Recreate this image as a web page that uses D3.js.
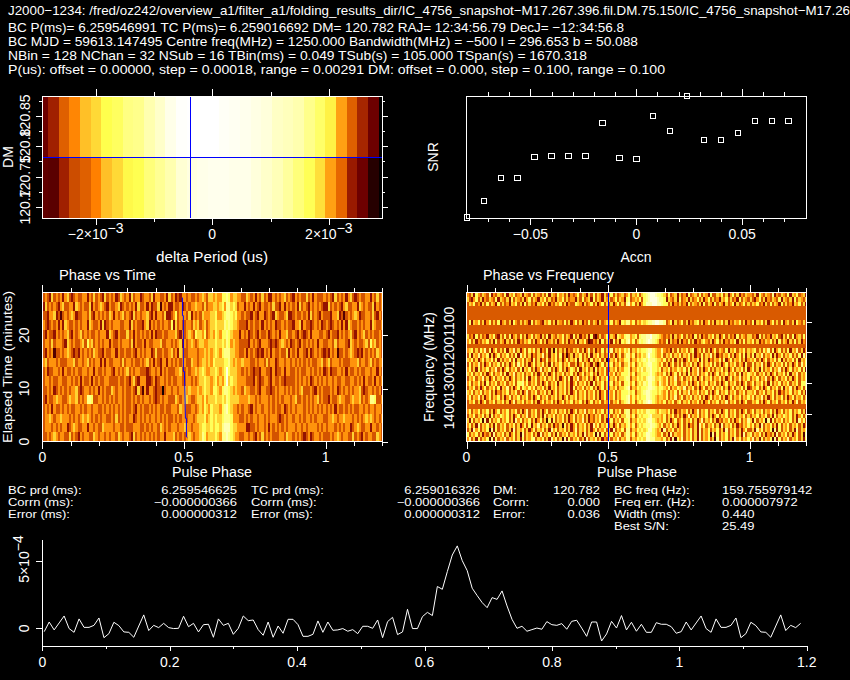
<!DOCTYPE html>
<html>
<head>
<meta charset="utf-8">
<style>
html,body{margin:0;padding:0;background:#000;overflow:hidden}
svg{display:block}
text{fill:#fff;font-family:"Liberation Sans",sans-serif;font-weight:400}
.tk line{stroke:#fff;stroke-width:1;shape-rendering:crispEdges}
</style>
<script src="https://cdn.jsdelivr.net/npm/d3@7/dist/d3.min.js"></script>
</head>
<body>
<script>
// ---------- header and table text ----------
const headerLines = [
 "J2000−1234: /fred/oz242/overview_a1/filter_a1/folding_results_dir/IC_4756_snapshot−M17.267.396.fil.DM.75.150/IC_4756_snapshot−M17.26",
 "BC P(ms)= 6.259546991 TC P(ms)= 6.259016692 DM= 120.782 RAJ= 12:34:56.79 DecJ= −12:34:56.8",
 "BC MJD = 59613.147495 Centre freq(MHz) = 1250.000 Bandwidth(MHz) = −500 l = 296.653 b = 50.088",
 "NBin = 128 NChan = 32 NSub = 16 TBin(ms) = 0.049 TSub(s) = 105.000 TSpan(s) = 1670.318",
 "P(us): offset = 0.00000, step = 0.00018, range = 0.00291 DM: offset = 0.000, step = 0.100, range = 0.100"
];
const tableLabelsA = ["BC prd (ms):","Corrn (ms):","Error (ms):"];
const tableValuesA = ["6.259546625","−0.000000366","0.000000312"];
const tableLabelsB = ["TC prd (ms):","Corrn (ms):","Error (ms):"];
const tableValuesB = ["6.259016326","−0.000000366","0.000000312"];
const tableLabelsC = ["DM:","Corrn:","Error:"];
const tableValuesC = ["120.782","0.000","0.036"];
const tableLabelsD = ["BC freq (Hz):","Freq err. (Hz):","Width (ms):","Best S/N:"];
const tableValuesD = ["159.755979142","0.000007972","0.440","25.49"];

// ---------- delta period vs DM ----------
const periodStart = -0.00291, periodStep = 0.000183;
const dmRows = [120.832, 120.732];
const dmUpper = [.17,.25,.35,.41,.5,.54,.6,.64,.72,.74,.82,.88,.95,.99,1,1,1,.98,.97,.96,.94,.92,.87,.85,.82,.74,.66,.58,.45,.35,.26,.17];
const dmLower = [.15,.14,.25,.32,.35,.4,.5,.54,.59,.61,.7,.76,.82,.9,.93,.95,.96,.96,.95,.95,.92,.88,.84,.78,.7,.62,.55,.45,.36,.24,.17,.06];
const bestPeriod = -0.000377, bestDM = 120.782;

// ---------- SNR vs acceleration (relative SNR, no scale printed) ----------
const accn = [-.08,-.072,-.064,-.056,-.048,-.04,-.032,-.024,-.016,-.008,0,.008,.016,.024,.032,.04,.048,.056,.064,.072];
const snr = [0,.5,1.19,1.19,1.82,1.85,1.85,1.85,2.84,1.79,1.76,3.05,2.6,3.65,2.33,2.33,2.54,2.9,2.9,2.9];

// ---------- phase vs time: 16 subints (latest first), 128 phase bins, digit = intensity level ----------
const phaseTime = [
"3432534342453234 3344243534325343 4235434253442344 3524433425342324 4343343454355454 4667645544335434 2435342243434534 3243433534243334",
"2534343245334425 4343352434543243 3452343434253342 4233514342243342 3434454435344554 5647756534424342 4324334353324243 4342534324343432",
"3324452313434542 3344353243434354 2434534325343445 3242443522346344 4352434354445564 4567765644343324 3244234325433452 2343343425343243",
"4323434242543343 4344254334252343 4443344253433245 2434343443625343 3443545345345565 5576765543332434 3342434342334343 3244524332343423",
"3243324343453243 4534343343444254 3243335342434343 4242334334445324 3454365546345465 4667654442434234 3243342343424453 3432432342444334",
"3443534443254343 3453645343434424 3343444352433424 3344453344343452 4345434554455565 5657645443333243 4324443232345434 2343243434342443",
"3243413343454323 2434343543324334 4243343343243434 4235334334534254 3344443445454565 4677755443342434 3232434243343352 4342443242343432",
"4534443433344453 4434534344242433 4443534434334345 3424324424343434 4335443455454655 5566754544544433 4344353442344344 3434343434334453",
"3423344342433434 3344344243343443 2434345343443332 3443424343334453 3434454565445565 4569655544343432 3324433242334244 3343433443434342",
"3443433443344343 4243342434334433 3343343245324442 2342344343433443 3443434556554564 5469565544443332 4323443243343233 3343434342343434",
"3343423434343445 3234434342434335 4344343343253142 4432330344344344 5454445456554665 4677654544354433 4324433234344343 4343453334324343",
"3243345443345445 3434776334434343 4344343343434344 3432343443335434 5543345546455565 5657655554444544 3434443434343444 3453343434345343",
"3434243343434334 4343443443343434 3434343343243433 4343433433444354 4334434546546555 4678654434344324 3443443434334234 3434443434343434",
"3445434454443434 3454543434344334 3534343442343434 3443434343343434 4344345556456565 5677764443343434 4344343444323434 4344343443434443",
"3444343434423454 3344244343354444 3443343334443343 4344354343444344 5443444566556566 5788865544442233 4344342434343434 4434434344443434",
"3343454344335343 2434433543443434 4354344325343434 3434344244453434 3454344576455565 4778765443344343 2435343433344354 4343432342344343"
];
const phasePath = [[.4947,27.1],[.4947,23.7],[.498,23.7],[.498,13.2],[.5017,13.2],[.5053,4.4],[.5088,4.4],[.5088,.9],[.5123,.75]];

// ---------- phase vs frequency: 32 channels, low frequency label at the top; null = zapped channel ----------
const zappedLevel = 0.31;
const phaseFreq = [
"4352643543724354 3625463452543635 4353625436453524 3463542536354253 4635345346354635 6789987765363452 5342634536354263 3546352463524354",
"5324635243543625 4352635435246354 2546353425463534 4253634526354254 5346354267345463 6789998776254352 6345253463524635 3425463534263543",
"3546342536354263 5342546352635342 5463524354635243 3654253463524635 3524635378463524 6888998876635243 5342635435263542 6354253462534635",
null,null,null,
"3625463524635362 4535264353542635 4325463525436352 4635243635425345 4635426577463546 5677899887346253 4635243563524635 2546352435463524",
null,null,
"5342635342546325 3636245363524635 4253625435463542 6352435262135346 3542654677456367 7889776543435253 4635342635243546 3524635342635435",
"4635243546352635 4253635243546352 4635245352463524 3625463124352635 4263526578463576 7898765343625342 5243635243564352 4635243546253635",
null,
"4563536473624635 3625473524636463 5243625163535243 5463524735243635 4735464657354656 6788654474342536 3546356245363524 6354362546354635",
"3625473546252463 5463536274635243 5473525463624135 2546353625463534 6352463577463546 5797654463546354 6354635243635473 5243546352463625",
"5463524635463625 3546362546354263 5243635463524635 4626354263546351 3546354667354656 7687765546353625 3524635462635243 5463624635463524",
"3635473524635463 6352463746352463 5463526354635463 3524635425314635 4635463557463565 6788665463524635 3635463524635463 6352463546354263",
"4635263546354735 2463546362546352 4735463524635246 5362546352635463 3546354667354657 5778665635463546 5463625473524635 3546352463546362",
"5463546352463546 3625473546354635 2463524635463546 3524635463525463 5463546667463556 6678654546352463 6352635473546352 4635463546362546",
"3546354735246354 6352463546362546 3546354635246362 5473546352463546 3546355677354656 5788755654635473 4635463524635463 5463524635473546",
"4635463526354635 4635463667463546 3524635462546352 4635463526354635 4635463667463565 7688654754635463 3546352463546354 6352463546352463",
"3546352463546362 5473524636546463 5463525463546352 6354635463524635 3546355678354656 6788765665463546 5473546352463546 3546352463546362",
"5463546354635243 5463546352473546 3546352463546352 4635463546352463 5463546667563556 7887665654635463 6354735463546352 4635463546354635",
"4635473524635463 5246354635463524 6354635463524635 4635463546352463 5463546678464656 6887654554635473 4635463546352463 5463524635463546",
"3546352463546354 6352473546354635 2463546352463546 3546352463546354 6354635678463565 7898654546354635 6354635463524635 4635473546352463",
null,
"4635463546352463 5463546352473546 3524635463546352 4635473546354635 4635463677354656 5776654655463524 3546352473546354 6352463546352463",
"3546354635263546 5463524635473546 3526354635463524 6354635243546354 6354635577463565 6678555546354635 3524735463546352 4635463546354635",
"5263546172635463 5463527463546352 4635162635463524 6354735243546352 4635463667354656 5788654546352463 4635463524735463 5243546352463547",
"4635273546352635 4635463524636254 7354635243516352 4635463527463546 3524635467463565 6778765463546352 4635243527463546 3527354635243546",
"3527463546172635 4635273546352463 5463527463546352 4735463524635463 5273546377354656 5688654527354635 4635463527354635 4635273546352463",
"6354635243527354 6352463517354635 2735463526354635 4635273546172635 4635463577463565 6887654463527354 4635463527354617 2635463546352735",
"4735263546172635 4735463526354673 5463527463517263 5463527354635243 6354735477354656 5887755546352716 4735463527354635 1735463527463546"
];

// ---------- pulse profile: 128 bins, units of 1e-4 ----------
const profile = [-.25,.47,-.12,.4,.92,-.02,-.3,.7,.07,.07,.22,.77,-.7,-.4,.45,.2,-.27,-.3,-.67,.17,1,-.17,.22,.05,.37,.05,-.02,0,.9,.12,.37,-.27,
.27,.3,-.67,.7,.22,.37,-.45,0,.92,.57,.62,-.1,-.52,.47,-.67,.17,-.37,.67,.67,.27,-.6,-.6,-.45,.55,-.3,.47,-.15,-.12,-.02,-.22,-.1,-.4,
.15,.15,0,.62,-.7,.5,.82,-.47,-.27,1.42,-.02,-.02,.87,1.19,.95,3.12,2.91,4.23,5.47,6.15,5.05,4.3,2.99,2.44,1.92,1.54,2.29,2.16,2.79,1.67,.67,0,
.15,-.22,-.1,.02,-.07,.5,.27,.22,.35,-.07,.52,.6,.02,-.6,.47,.47,-.95,-.42,.52,.02,.95,-.12,.45,-.22,.3,-.3,-.3,.42,.3,.3,.12,-.37];
const profileLastPhase = 1.19;
const nBins = 128;

// ---------- tick values ----------
const periodMajor=[-.002,0,.002], periodMinor=[-.001,.001];
const dmMajor=[120.7,120.75,120.8,120.85], dmMinor=[120.725,120.775,120.825,120.875];
const accnMajor=[-.05,0,.05], accnMinor=[-.07,-.06,-.04,-.03,-.02,-.01,.01,.02,.03,.04,.06,.07];
const phaseMajor=[0,.5,1], phaseMinor=[.1,.2,.3,.4,.6,.7,.8,.9,1.1,1.2];
const timeTicks=[0,10,20], freqTicks=[1100,1200,1300,1400];
const profMajor=[0,.2,.4,.6,.8,1,1.2], profMinor=[.1,.3,.5,.7,.9,1.1];
const fmt=d3.format("~g");

// ---------- drawing ----------
const svg = d3.select("body").append("svg").attr("width",850).attr("height",680);
svg.append("rect").attr("width",850).attr("height",680).attr("fill","#000");
const heat = d3.scaleLinear().domain([0,.2,.4,.6,1])
  .range(["#000000","#800000","#ff8000","#ffff4d","#ffffff"]).clamp(true);
const WHITE="#fff", BLUE="#0000ff";

function txt(x,y,s,o={}){
  const t=svg.append("text").attr("font-size",o.size||13).text(s)
    .attr("text-anchor",o.anchor||"start");
  if(o.rot) t.attr("transform",`translate(${x},${y}) rotate(-90)`);
  else t.attr("x",x).attr("y",y);
  if(o.width) t.attr("textLength",o.width).attr("lengthAdjust","spacingAndGlyphs");
  if(o.stretch) t.attr("textLength",t.node().getComputedTextLength()*o.stretch).attr("lengthAdjust","spacingAndGlyphs");
  return t;
}
function expTxt(x,y,base,exp,o={}){
  const t=txt(x,y,"",o);
  t.append("tspan").text(base);
  t.append("tspan").attr("dy",-6).text(exp);
  return t;
}
function ticks(axisFn,scale,values,size,tx,ty){
  const a=axisFn(scale).tickValues(values).tickSize(size).tickSizeOuter(0).tickFormat(()=> "");
  const g=svg.append("g").attr("class","tk").attr("transform",`translate(${tx},${ty})`).call(a);
  g.select(".domain").remove();
  g.selectAll("text").remove();
  return g;
}
function box(x0,y0,x1,y1){
  svg.append("rect").attr("x",x0).attr("y",y0).attr("width",x1-x0).attr("height",y1-y0)
    .attr("fill","none").attr("stroke",WHITE).attr("stroke-width",1).attr("shape-rendering","crispEdges");
}
function digits(row){ return row.replace(/ /g,""); }
function rowsToCells(rows){
  const cells=[];
  rows.forEach((row,r)=>{
    const d=row===null?null:digits(row);
    for(let b=0;b<154;b++){
      const v=d===null?zappedLevel+.03:(+d[b%nBins])/10+.03;
      cells.push({r,b,v});
    }
  });
  return cells;
}

// header
const headerWidths=[842,616,630,579,657], headerY=[15,32,46,60,74];
headerLines.forEach((s,i)=>txt(8,headerY[i],s,{width:headerWidths[i]}));

// panel 1
{
 const L=42.3,R=382.2,T=96.3,B=218;
 const x=d3.scaleLinear().domain([-.002915,.002915]).range([L,R]);
 const y=d3.scaleLinear().domain([120.682,120.882]).range([B,T]);
 const rowsD=[dmUpper,dmLower];
 rowsD.forEach((vals,ri)=>{
   const y0=y(dmRows[ri]+.05), y1=y(dmRows[ri]-.05);
   svg.append("g").selectAll("rect").data(vals).join("rect")
    .attr("x",(d,i)=>Math.max(L,x(periodStart+(i-.5)*periodStep)))
    .attr("width",(d,i)=>x(periodStart+(i+.5)*periodStep)-Math.max(L,x(periodStart+(i-.5)*periodStep))+.3)
    .attr("y",Math.max(T,y0)).attr("height",Math.min(B,y1)-Math.max(T,y0))
    .attr("fill",d=>heat(d)).attr("shape-rendering","crispEdges");
 });
 svg.append("line").attr("x1",x(bestPeriod)).attr("x2",x(bestPeriod)).attr("y1",T).attr("y2",B)
   .attr("stroke",BLUE).attr("shape-rendering","crispEdges");
 svg.append("line").attr("x1",L).attr("x2",R).attr("y1",y(bestDM)).attr("y2",y(bestDM))
   .attr("stroke",BLUE).attr("shape-rendering","crispEdges");
 box(L,T,R,B);
 ticks(d3.axisTop,x,periodMajor,7,0,T); ticks(d3.axisTop,x,periodMinor,4,0,T);
 ticks(d3.axisBottom,x,periodMajor,7,0,B); ticks(d3.axisBottom,x,periodMinor,4,0,B);
 ticks(d3.axisLeft,y,dmMajor,6,L,0); ticks(d3.axisLeft,y,dmMinor,3,L,0);
 ticks(d3.axisRight,y,dmMajor,6,R,0); ticks(d3.axisRight,y,dmMinor,3,R,0);
 expTxt(x(-.002),239,"−2×10","−3",{anchor:"middle",size:14});
 txt(x(0),239,"0",{anchor:"middle",size:14});
 expTxt(x(.002),239,"2×10","−3",{anchor:"middle",size:14});
 txt(212,262,"delta Period (us)",{anchor:"middle",width:112,size:14});
 txt(13,157,"DM",{anchor:"middle",rot:true,size:14});
 dmMajor.forEach(v=>txt(30,y(v),fmt(v),{anchor:"middle",rot:true,size:14}));
}

// panel 2
{
 const L=466.3,R=806.3,T=96.3,B=218;
 const x=d3.scaleLinear().domain([-.0803,.0803]).range([L,R]);
 const y=d3.scaleLinear().domain([0,3.65]).range([217.7,96]);
 box(L,T,R,B);
 ticks(d3.axisTop,x,accnMajor,7,0,T); ticks(d3.axisTop,x,accnMinor,4,0,T);
 ticks(d3.axisBottom,x,accnMajor,7,0,B); ticks(d3.axisBottom,x,accnMinor,4,0,B);
 svg.append("g").selectAll("rect").data(snr).join("rect")
   .attr("x",(d,i)=>x(accn[i])-2.75).attr("y",d=>y(d)-2.75).attr("width",5.5).attr("height",5.5)
   .attr("fill","none").attr("stroke",WHITE).attr("stroke-width",1).attr("shape-rendering","crispEdges");
 [-.05,0,.05].forEach((v,i)=>txt(x(v),239,["−0.05","0","0.05"][i],{anchor:"middle",size:14}));
 txt(636,262,"Accn",{anchor:"middle",size:14});
 txt(438,157,"SNR",{anchor:"middle",rot:true,size:14});
}

// panel 3
{
 const L=42.3,R=382.2,T=292.3,B=441.7;
 const x=d3.scaleLinear().domain([0,1.2]).range([L,R]);
 const y=d3.scaleLinear().domain([0,28.09]).range([B,T]);
 const rowH=d3.scaleBand().domain(d3.range(phaseTime.length)).range([T,B]);
 svg.append("clipPath").attr("id","c3").append("rect").attr("x",L).attr("y",T).attr("width",R-L).attr("height",B-T);
 svg.append("g").attr("clip-path","url(#c3)").selectAll("rect").data(rowsToCells(phaseTime)).join("rect")
   .attr("x",d=>x(d.b/nBins)).attr("width",x(1/nBins)-x(0)+.3)
   .attr("y",d=>rowH(d.r)).attr("height",rowH.bandwidth()+.3)
   .attr("fill",d=>heat(d.v)).attr("shape-rendering","crispEdges");
 svg.append("path").datum(phasePath).attr("d",d3.line().x(d=>x(d[0])).y(d=>y(d[1])))
   .attr("fill","none").attr("stroke",BLUE).attr("stroke-width",1);
 box(L,T,R,B);
 ticks(d3.axisTop,x,phaseMajor,7,0,T); ticks(d3.axisTop,x,phaseMinor,4,0,T);
 ticks(d3.axisBottom,x,phaseMajor,7,0,B); ticks(d3.axisBottom,x,phaseMinor,4,0,B);
 ticks(d3.axisRight,y,timeTicks,6,R,0);
 phaseMajor.forEach(v=>txt(x(v),462,fmt(v),{anchor:"middle",size:14}));
 txt(212,477,"Pulse Phase",{anchor:"middle",width:80,size:14});
 txt(59,280,"Phase vs Time",{width:97,size:14});
 timeTicks.forEach(v=>txt(29,y(v),String(v),{anchor:"middle",rot:true,size:14}));
 txt(11.5,367,"Elapsed Time (minutes)",{anchor:"middle",rot:true,width:152,size:12});
}

// panel 4
{
 const L=466.5,R=806.3,T=292.3,B=441.7;
 const x=d3.scaleLinear().domain([0,1.2]).range([L,R]);
 const y=d3.scaleLinear().domain([1004,1491]).range([T,B]);
 const rowH=d3.scaleBand().domain(d3.range(phaseFreq.length)).range([T,B]);
 svg.append("clipPath").attr("id","c4").append("rect").attr("x",L).attr("y",T).attr("width",R-L).attr("height",B-T);
 svg.append("g").attr("clip-path","url(#c4)").selectAll("rect").data(rowsToCells(phaseFreq)).join("rect")
   .attr("x",d=>x(d.b/nBins)).attr("width",x(1/nBins)-x(0)+.3)
   .attr("y",d=>rowH(d.r)).attr("height",rowH.bandwidth()+.3)
   .attr("fill",d=>heat(d.v)).attr("shape-rendering","crispEdges");
 svg.append("line").attr("x1",x(.5)).attr("x2",x(.5)).attr("y1",T).attr("y2",B)
   .attr("stroke",BLUE).attr("shape-rendering","crispEdges");
 box(L,T,R,B);
 ticks(d3.axisTop,x,phaseMajor,7,0,T); ticks(d3.axisTop,x,phaseMinor,4,0,T);
 ticks(d3.axisBottom,x,phaseMajor,7,0,B); ticks(d3.axisBottom,x,phaseMinor,4,0,B);
 ticks(d3.axisRight,y,freqTicks,6,R,0);
 phaseMajor.forEach(v=>txt(x(v),462,fmt(v),{anchor:"middle",size:14}));
 txt(637,477,"Pulse Phase",{anchor:"middle",width:80,size:14});
 txt(483,280,"Phase vs Frequency",{width:131,size:14});
 freqTicks.forEach(v=>txt(454,y(v),String(v),{anchor:"middle",rot:true,size:14}));
 txt(434,367,"Frequency (MHz)",{anchor:"middle",rot:true,width:110,size:14});
}

// table
{
 const ys=[494,506,518,530];
 const o={size:10.3,stretch:1.26}, oe={size:10.3,stretch:1.26,anchor:"end"};
 tableLabelsA.forEach((s,i)=>txt(8,ys[i],s,o));
 tableValuesA.forEach((s,i)=>txt(237,ys[i],s,oe));
 tableLabelsB.forEach((s,i)=>txt(251,ys[i],s,o));
 tableValuesB.forEach((s,i)=>txt(480,ys[i],s,oe));
 tableLabelsC.forEach((s,i)=>txt(493,ys[i],s,o));
 tableValuesC.forEach((s,i)=>txt(600,ys[i],s,oe));
 tableLabelsD.forEach((s,i)=>txt(614,ys[i],s,o));
 tableValuesD.forEach((s,i)=>txt(722,ys[i],s,o));
}

// profile
{
 const L=42.3,R=806.7,T=540,B=646.3;
 const x=d3.scaleLinear().domain([0,1.2]).range([L,R]);
 const y=d3.scaleLinear().domain([0,5]).range([628.3,561.3]);
 const n=Math.round(profileLastPhase*nBins)+1;
 const pts=d3.range(n).map(i=>({p:i/nBins+.003,v:profile[i%nBins]}));
 svg.append("path").datum(pts).attr("d",d3.line().x(d=>x(d.p)).y(d=>y(d.v)))
   .attr("fill","none").attr("stroke",WHITE).attr("stroke-width",1);
 svg.append("line").attr("x1",L).attr("x2",L).attr("y1",T).attr("y2",B).attr("stroke",WHITE).attr("shape-rendering","crispEdges");
 svg.append("line").attr("x1",L).attr("x2",R).attr("y1",B).attr("y2",B).attr("stroke",WHITE).attr("shape-rendering","crispEdges");
 ticks(d3.axisBottom,x,profMajor,5,0,B); ticks(d3.axisBottom,x,profMinor,3,0,B);
 ticks(d3.axisLeft,y,[0,5],6,L,0);
 profMajor.forEach(v=>txt(x(v),667,fmt(v),{anchor:"middle",size:14}));
 txt(29,y(0),"0",{anchor:"middle",rot:true,size:14});
 expTxt(29,559,"5×10","−4",{anchor:"middle",rot:true,size:14});
}
</script>
</body>
</html>
